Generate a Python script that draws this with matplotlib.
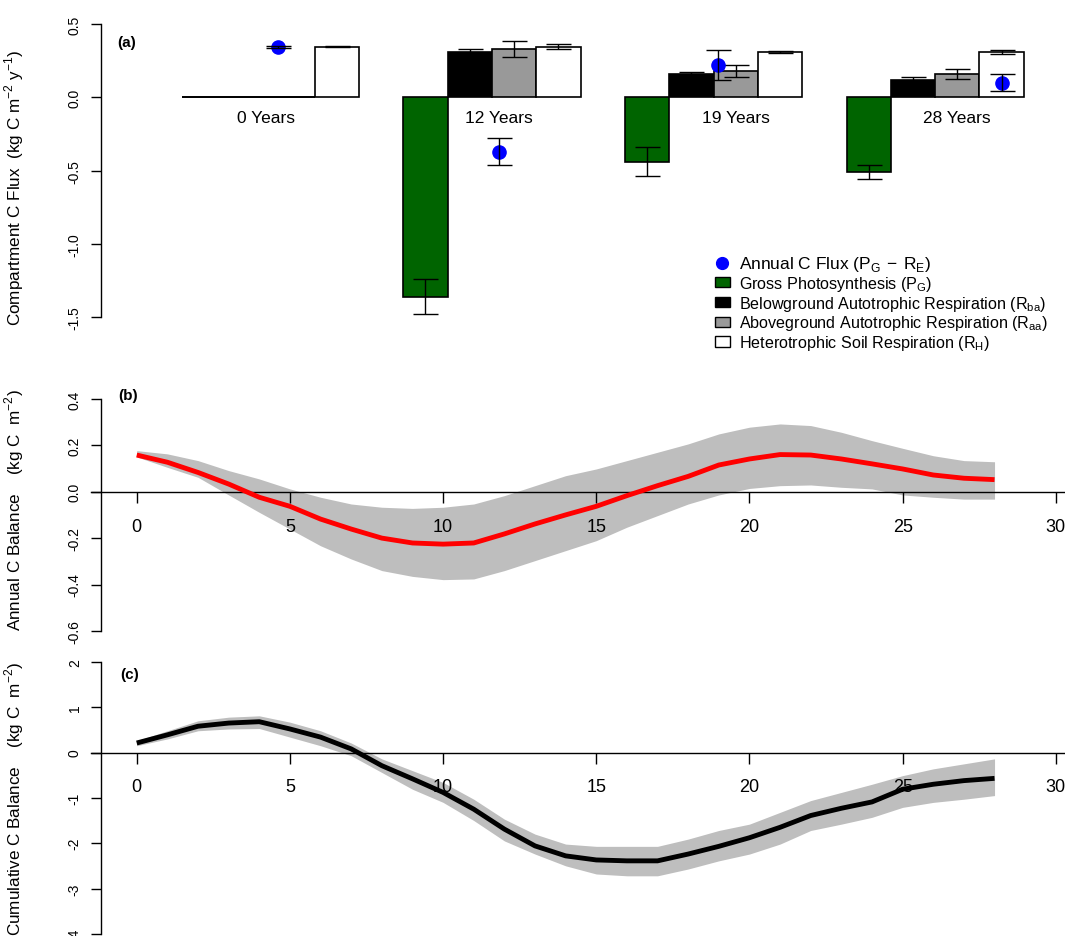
import numpy as np
import matplotlib
matplotlib.use('Agg')
import matplotlib.pyplot as plt
from matplotlib.patches import Patch
from matplotlib.lines import Line2D
from matplotlib import font_manager

plt.rcParams['font.family'] = ['Liberation Sans', 'DejaVu Sans']
plt.rcParams['axes.unicode_minus'] = False

# ---- panel (a): compartment fluxes by stand age ----
groups = ['0 Years', '12 Years', '19 Years', '28 Years']
pg = [0.0, -1.36, -0.44, -0.51]
pg_err = [0.0, 0.12, 0.10, 0.05]
rba = [0.0, 0.31, 0.16, 0.12]
rba_err = [0.0, 0.02, 0.015, 0.015]
raa = [0.0, 0.33, 0.18, 0.16]
raa_err = [0.0, 0.055, 0.04, 0.035]
rh = [0.345, 0.345, 0.31, 0.31]
rh_err = [0.005, 0.015, 0.006, 0.012]
net = [0.345, -0.37, 0.22, 0.10]
net_err = [0.006, 0.09, 0.105, 0.06]

# ---- panel (b): annual C balance ----
years = list(range(29))
ann_mean = [0.158, 0.127, 0.083, 0.033, -0.024, -0.063, -0.118, -0.161, -0.200, -0.221,
            -0.226, -0.221, -0.182, -0.139, -0.100, -0.063, -0.017, 0.026, 0.066, 0.115,
            0.141, 0.160, 0.158, 0.141, 0.120, 0.098, 0.072, 0.058, 0.052]
ann_hi = [0.177, 0.163, 0.134, 0.091, 0.055, 0.012, -0.024, -0.053, -0.067, -0.072,
          -0.067, -0.053, -0.017, 0.026, 0.069, 0.098, 0.134, 0.170, 0.206, 0.249,
          0.278, 0.292, 0.285, 0.256, 0.220, 0.187, 0.155, 0.134, 0.129]
ann_lo = [0.150, 0.105, 0.062, -0.014, -0.089, -0.161, -0.233, -0.290, -0.340, -0.365,
          -0.379, -0.376, -0.340, -0.297, -0.254, -0.211, -0.153, -0.103, -0.053, -0.014,
          0.014, 0.026, 0.029, 0.019, 0.012, -0.014, -0.024, -0.032, -0.032]

# ---- panel (c): cumulative C balance ----
cum_mean = [0.21, 0.39, 0.58, 0.65, 0.68, 0.52, 0.34, 0.08, -0.29, -0.58,
            -0.88, -1.25, -1.69, -2.06, -2.28, -2.37, -2.39, -2.39, -2.24, -2.07,
            -1.88, -1.65, -1.39, -1.23, -1.09, -0.81, -0.70, -0.62, -0.57]
cum_hi = [0.26, 0.48, 0.70, 0.78, 0.81, 0.67, 0.48, 0.21, -0.14, -0.40,
          -0.66, -1.03, -1.47, -1.80, -2.02, -2.07, -2.07, -2.07, -1.91, -1.72,
          -1.58, -1.32, -1.06, -0.88, -0.70, -0.51, -0.36, -0.25, -0.14]
cum_lo = [0.15, 0.30, 0.48, 0.52, 0.53, 0.34, 0.15, -0.07, -0.44, -0.81,
          -1.10, -1.50, -1.95, -2.24, -2.50, -2.68, -2.72, -2.72, -2.57, -2.39,
          -2.24, -2.02, -1.72, -1.58, -1.43, -1.21, -1.10, -1.03, -0.95]

names = {f.name for f in font_manager.fontManager.ttflist}
narrow = 'Liberation Sans Narrow' if 'Liberation Sans Narrow' in names else 'Liberation Sans'

W, H = 1065, 937
fig = plt.figure(figsize=(W / 100, H / 100), dpi=100)


def box(top, bottom, left=101.5):
    return [left / W, 1 - bottom / H, (W - left) / W, (bottom - top) / H]


ax_a = fig.add_axes(box(7.3, 355))
ax_b = fig.add_axes(box(390.6, 641.2))
ax_c = fig.add_axes(box(652, 937))

# panel (a)
x0 = np.arange(len(groups)) * 5
dot_offset = [1.67, 1.66, 1.6, 3.0]
label_offset = [1.4, 1.66, 2.0, 2.0]
bar_colors = ['#006400', 'black', '#999999', 'white']
series = [(pg, pg_err), (rba, rba_err), (raa, raa_err), (rh, rh_err)]
for j, ((vals, errs), c) in enumerate(zip(series, bar_colors)):
    bars = ax_a.bar(x0 + j, vals, width=1.0, color=c, edgecolor='black', linewidth=1.2, zorder=2)
    # zero-height bars show up as a flat line, as in the original barplot
    for rect in bars:
        if rect.get_height() == 0:
            ax_a.hlines(rect.get_y(), rect.get_x(), rect.get_x() + rect.get_width(),
                        color='black', lw=1.3, zorder=6)
    has_err = np.array(errs) > 0
    ax_a.errorbar((x0 + j)[has_err], np.array(vals)[has_err], yerr=np.array(errs)[has_err],
                  fmt='none', ecolor='black', elinewidth=1, capsize=9, capthick=1, zorder=3)
ax_a.plot(x0 + dot_offset, net, 'o', color='blue', ms=9.5, zorder=4)
ax_a.errorbar(x0 + dot_offset, net, yerr=net_err, fmt='none', ecolor='black',
              elinewidth=1, capsize=9, capthick=1, zorder=5)
for g, lab in enumerate(groups):
    ax_a.text(x0[g] + label_offset[g], -0.14, lab, ha='center', va='center', fontsize=12.5)

ax_a.set_xlim(-2.31, 19.43)
ax_a.set_ylim(-1.75, 0.62)
ax_a.set_xticks([])
ax_a.set_yticks([-1.5, -1.0, -0.5, 0.0, 0.5])
ax_a.yaxis.set_major_formatter(plt.FormatStrFormatter('%.1f'))
ax_a.spines['left'].set_bounds(-1.5, 0.5)
ax_a.set_ylabel(r'Compartment C Flux  (kg C m$^{\mathregular{-2}}$ y$^{\mathregular{-1}}$)', fontsize=12.3)
ax_a.yaxis.set_label_coords(-0.078, 0.48)
ax_a.text(-1.96, 0.379, '(a)', fontsize=11, fontweight='bold', va='center')

handles = [
    Line2D([], [], marker='o', color='blue', ls='none', ms=8.5),
    Patch(facecolor='#006400', edgecolor='black'),
    Patch(facecolor='black', edgecolor='black'),
    Patch(facecolor='#999999', edgecolor='black'),
    Patch(facecolor='white', edgecolor='black'),
]
labels = [
    r'Annual C Flux (P$_\mathregular{G}$$\mathregular{\,-\,}$R$_\mathregular{E}$)',
    r'Gross Photosynthesis (P$_\mathregular{G}$)',
    r'Belowground Autotrophic Respiration (R$_\mathregular{ba}$)',
    r'Aboveground Autotrophic Respiration (R$_\mathregular{aa}$)',
    r'Heterotrophic Soil Respiration (R$_\mathregular{H}$)',
]
leg = ax_a.legend(handles, labels, loc='upper left', bbox_to_anchor=(715 / W, 1 - 255 / H),
                  bbox_transform=fig.transFigure, frameon=False, fontsize=11.6,
                  borderpad=0, borderaxespad=0, handlelength=0.9, handleheight=0.6,
                  handletextpad=0.6, labelspacing=0.05)
leg.get_texts()[0].set_fontsize(12.5)

# panel (b)
ax_b.fill_between(years, ann_lo, ann_hi, color='#BEBEBE', lw=0, zorder=1)
ax_b.plot(years, ann_mean, color='red', lw=3.5, zorder=3, solid_capstyle='butt')
ax_b.set_ylim(-0.64, 0.44)
ax_b.set_yticks([-0.6, -0.4, -0.2, 0.0, 0.2, 0.4])
ax_b.yaxis.set_major_formatter(plt.FormatStrFormatter('%.1f'))
ax_b.spines['left'].set_bounds(-0.6, 0.4)
ax_b.set_ylabel(r'Annual C Balance    (kg C  m$^{\mathregular{-2}}$)', fontsize=12.3)
ax_b.yaxis.set_label_coords(-0.078, 0.524)
ax_b.text(-0.61, 0.417, '(b)', fontsize=11, fontweight='bold', va='center')

# panel (c)
ax_c.fill_between(years, cum_lo, cum_hi, color='#BEBEBE', lw=0, zorder=1)
ax_c.plot(years, cum_mean, color='black', lw=3.5, zorder=3, solid_capstyle='butt')
ax_c.set_ylim(-4.048, 2.24)
ax_c.set_yticks([-4, -3, -2, -1, 0, 1, 2])
ax_c.spines['left'].set_bounds(-4, 2)
ax_c.set_ylabel(r'Cumulative C Balance    (kg C  m$^{\mathregular{-2}}$)', fontsize=12.3)
ax_c.yaxis.set_label_coords(-0.078, 0.485)
ax_c.text(-0.545, 1.73, '(c)', fontsize=11, fontweight='bold', va='center')

for ax in (ax_b, ax_c):
    ax.set_xlim(-1.15, 30.3)
    ax.set_xticks(range(0, 31, 5))
    ax.spines['bottom'].set_position(('data', 0))
    ax.spines['bottom'].set_visible(False)
    ax.axhline(0, xmin=-10.5 / (W - 101.5), xmax=1, color='black', lw=1, clip_on=False, zorder=2)
    ax.tick_params(axis='x', direction='out', length=7.7, width=1, pad=11, labelsize=13)
    for t in ax.get_xticklabels():
        t.set_family(narrow)

for ax in (ax_a, ax_b, ax_c):
    for s in ('top', 'right'):
        ax.spines[s].set_visible(False)
    if ax is ax_a:
        ax.spines['bottom'].set_visible(False)
    ax.spines['left'].set_linewidth(1)
    ax.tick_params(axis='y', direction='out', length=7.2, width=1, pad=7,
                   labelsize=10, labelrotation=90)
    plt.setp(ax.get_yticklabels(), va='center')
    ax.patch.set_visible(False)

fig.savefig('out.png', dpi=100)
